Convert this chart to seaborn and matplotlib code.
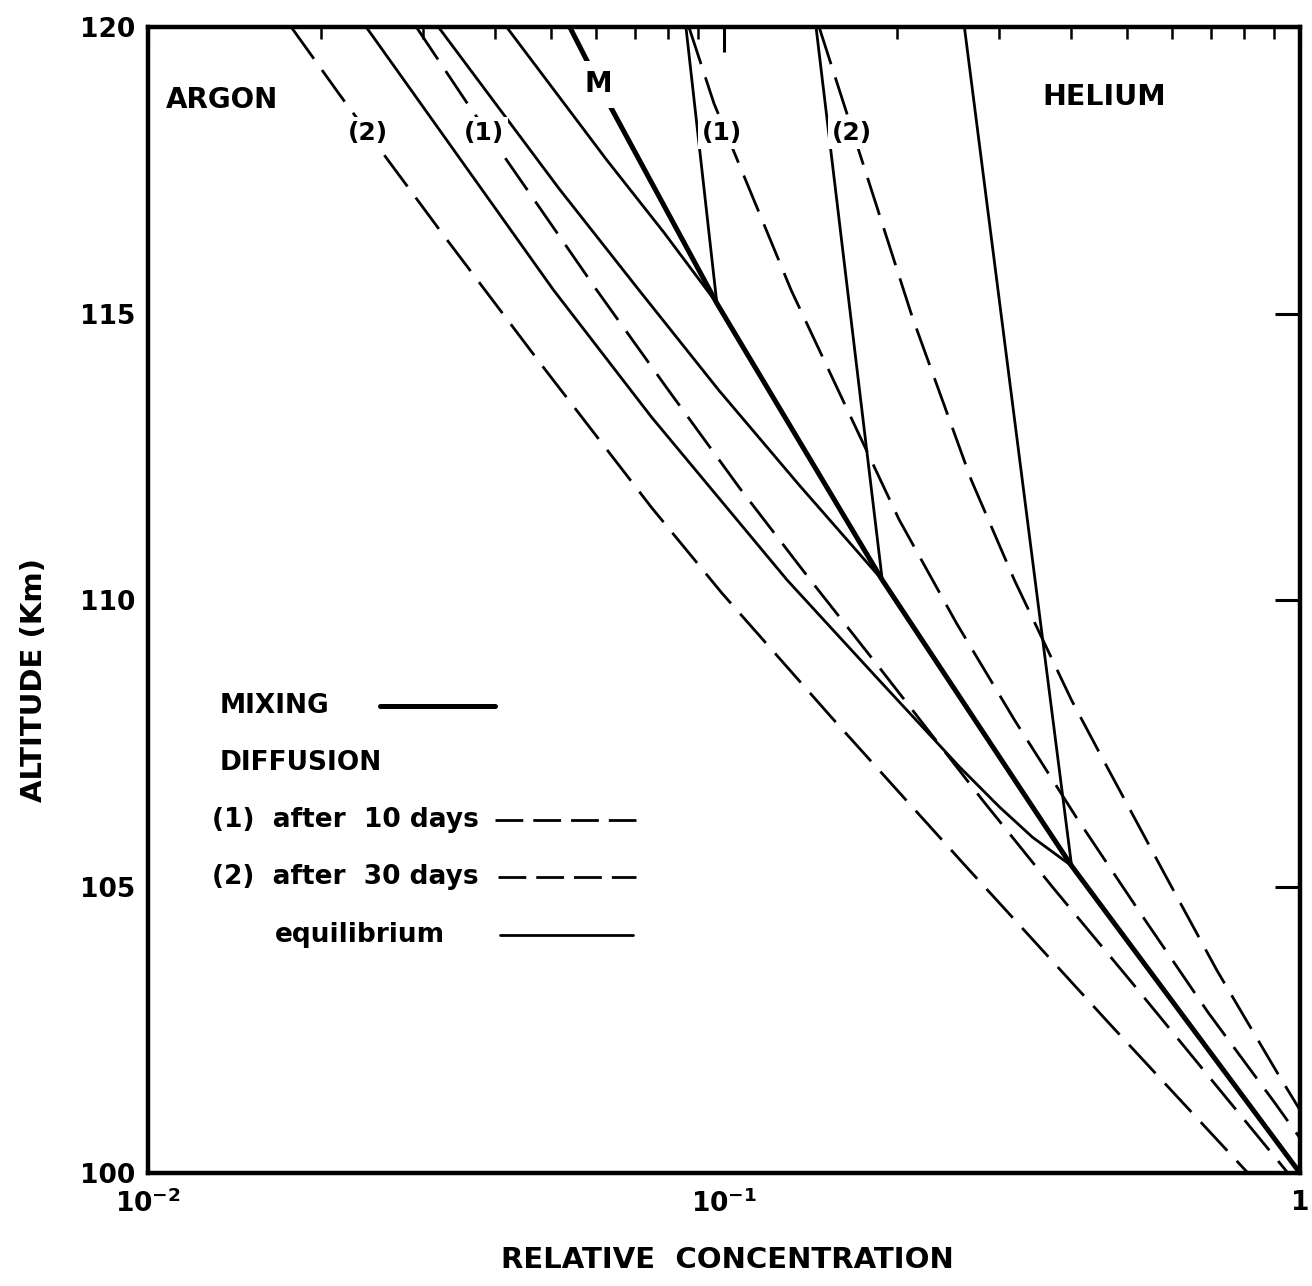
import matplotlib
matplotlib.use("Agg")
import matplotlib.pyplot as plt
from matplotlib.lines import Line2D
from matplotlib.ticker import FixedLocator, FixedFormatter, LogLocator, NullFormatter
import seaborn as sns

# ---------------- data (relative concentration, altitude km) ----------------
# mixing profile (thick line) with its kinks at ~105, ~110 and ~115 km
mixing_conc = [1.0, 0.4014, 0.1883, 0.0972, 0.0633, 0.0540]
mixing_alt = [100.0, 105.36, 110.35, 115.18, 118.64, 120.0]

# argon equilibrium curves starting at the mixing line
ar_eq105_conc = [0.4014, 0.3433, 0.3007, 0.2563, 0.1860, 0.1287, 0.0749, 0.0506, 0.02393]
ar_eq105_alt = [105.36, 105.86, 106.39, 107.09, 108.60, 110.35, 113.19, 115.41, 120.0]
ar_eq110_conc = [0.1883, 0.1350, 0.0980, 0.0712, 0.05164, 0.03194]
ar_eq110_alt = [110.35, 112.01, 113.66, 115.41, 117.19, 120.0]
ar_eq115_conc = [0.0972, 0.0786, 0.0626, 0.04195]
ar_eq115_alt = [115.18, 116.42, 117.68, 120.0]

# helium equilibrium curves starting at the mixing line
he_eq105_conc = [0.4014, 0.2615]
he_eq105_alt = [105.36, 120.0]
he_eq110_conc = [0.1883, 0.1445]
he_eq110_alt = [110.35, 120.0]
he_eq115_conc = [0.0972, 0.0859]
he_eq115_alt = [115.18, 120.0]

# diffusion profiles
ar_d10_conc = [0.02924, 0.03573, 0.06013, 0.0796, 0.1062, 0.1405, 0.1875,
               0.2810, 0.3719, 0.5063, 0.7030, 0.9531]
ar_d10_alt = [120.0, 118.69, 115.41, 113.70, 111.97, 110.38, 108.78,
              106.51, 104.99, 103.37, 101.62, 100.0]
ar_d30_conc = [0.01773, 0.02166, 0.03258, 0.04826, 0.07493, 0.0992, 0.1541,
               0.2615, 0.4636, 0.8122]
ar_d30_alt = [120.0, 118.78, 116.37, 114.10, 111.61, 110.12, 107.94,
              105.38, 102.64, 100.0]
he_d10_conc = [0.08693, 0.09607, 0.1308, 0.1663, 0.2015, 0.2532, 0.3193,
               0.4095, 0.5313, 0.6918, 0.9050, 1.0]
he_d10_alt = [120.0, 118.67, 115.41, 113.18, 111.40, 109.60, 107.91,
              106.20, 104.50, 102.81, 101.22, 100.61]
he_d30_conc = [0.1463, 0.2123, 0.2689, 0.3193, 0.4014, 0.4489, 0.5871,
               0.7172, 0.9121, 1.0]
he_d30_alt = [120.0, 114.94, 112.09, 110.35, 108.25, 107.33, 105.15,
              103.54, 101.76, 101.10]

x_ticks = [0.01, 0.1, 1.0]
x_ticklabels = ["$10^{-2}$", "$10^{-1}$", "1"]
y_ticks = [100, 105, 110, 115, 120]
y_ticklabels = ["100", "105", "110", "115", "120"]

# ---------------- style ----------------
sns.set_style("white")
plt.rcParams["font.family"] = ["DejaVu Sans"]
plt.rcParams["mathtext.fontset"] = "dejavusans"
plt.rcParams["mathtext.default"] = "bf"
plt.rcParams["text.color"] = "black"
plt.rcParams["axes.labelcolor"] = "black"
plt.rcParams["xtick.color"] = "black"
plt.rcParams["ytick.color"] = "black"

fig = plt.figure(figsize=(13.12, 12.86), dpi=100)
ax = fig.add_axes([0.1128, 0.0879, 0.878, 0.891])

LW_MIX = 3.6
LW_THIN = 2.0
DASH = (14.0, 5.0)


def draw(conc, alt, lw, dash=None, z=2):
    sns.lineplot(x=conc, y=alt, sort=False, estimator=None, ax=ax,
                 color="black", linewidth=lw, zorder=z)
    line = ax.lines[-1]
    if dash is not None:
        line.set_dashes(dash)
        line.set_dash_capstyle("butt")
    else:
        line.set_solid_joinstyle("round")
    return line


draw(mixing_conc, mixing_alt, LW_MIX, z=3)
for c, a in [(ar_eq105_conc, ar_eq105_alt), (ar_eq110_conc, ar_eq110_alt),
             (ar_eq115_conc, ar_eq115_alt), (he_eq105_conc, he_eq105_alt),
             (he_eq110_conc, he_eq110_alt), (he_eq115_conc, he_eq115_alt)]:
    draw(c, a, LW_THIN)
for c, a in [(ar_d10_conc, ar_d10_alt), (ar_d30_conc, ar_d30_alt),
             (he_d10_conc, he_d10_alt), (he_d30_conc, he_d30_alt)]:
    draw(c, a, LW_THIN, dash=DASH)

ax.set_xscale("log")
ax.set_xlim(0.01, 1.0)
ax.set_ylim(100, 120)

# ticks
ax.xaxis.set_major_locator(FixedLocator(x_ticks))
ax.xaxis.set_major_formatter(FixedFormatter(x_ticklabels))
ax.xaxis.set_minor_locator(LogLocator(base=10, subs=[2, 3, 4, 5, 6, 7, 8, 9]))
ax.xaxis.set_minor_formatter(NullFormatter())
ax.yaxis.set_major_locator(FixedLocator(y_ticks))
ax.yaxis.set_major_formatter(FixedFormatter(y_ticklabels))
ax.tick_params(axis="both", which="both", direction="in", top=True, right=True,
               colors="black")
ax.tick_params(axis="both", which="major", length=18, width=2.2, labelsize=19)
ax.tick_params(axis="x", which="minor", length=8.5, width=1.8)
ax.tick_params(axis="y", which="major", pad=9)
ax.tick_params(axis="x", which="major", pad=12)
for lab in ax.get_yticklabels() + ax.get_xticklabels():
    lab.set_fontweight("bold")
    lab.set_color("black")

for sp in ax.spines.values():
    sp.set_linewidth(3.2)
    sp.set_color("black")

ax.set_xlabel("RELATIVE  CONCENTRATION", fontsize=21, fontweight="bold", color="black")
ax.set_ylabel("ALTITUDE (Km)", fontsize=21, fontweight="bold", color="black")
ax.xaxis.set_label_coords(0.503, -0.064)
ax.yaxis.set_label_coords(-0.087, 0.43)

# curve annotations
wb = dict(facecolor="white", edgecolor="none", pad=3)
ax.text(0.01345, 118.73, "ARGON", ha="center", va="center", fontsize=20,
        fontweight="bold", color="black")
ax.text(0.458, 118.78, "HELIUM", ha="center", va="center", fontsize=20.5,
        fontweight="bold", color="black")
ax.text(0.0606, 119.0, "M", ha="center", va="center", fontsize=20, fontweight="bold",
        color="black", bbox=dict(facecolor="white", edgecolor="none", pad=7), zorder=6)
for xc, t in [(0.0241, "(2)"), (0.0383, "(1)"), (0.0992, "(1)"), (0.167, "(2)")]:
    ax.text(xc, 118.15, t, ha="center", va="center", fontsize=18, fontweight="bold",
            color="black", bbox=wb, zorder=6)

# key drawn as in the original
key_fs = 19
key_texts = [
    (0.0625, 0.4075, "MIXING"),
    (0.0625, 0.3578, "DIFFUSION"),
    (0.0556, 0.308, "(1)  after  10 days"),
    (0.0556, 0.2583, "(2)  after  30 days"),
    (0.110, 0.2077, "equilibrium"),
]
for xk, yk, t in key_texts:
    ax.text(xk, yk, t, transform=ax.transAxes, ha="left", va="center",
            fontsize=key_fs, fontweight="bold", color="black")

key_lines = [
    ((0.201, 0.301), 0.4075, LW_MIX, None),
    ((0.301, 0.4236), 0.308, LW_THIN, (10.0, 3.6)),
    ((0.304, 0.4236), 0.2583, LW_THIN, (10.0, 3.6)),
    ((0.3056, 0.421), 0.2077, LW_THIN, None),
]
for (x0, x1), yk, lw, dash in key_lines:
    ln = Line2D([x0, x1], [yk, yk], transform=ax.transAxes, color="black", linewidth=lw)
    if dash is not None:
        ln.set_dashes(dash)
        ln.set_dash_capstyle("butt")
    ax.add_line(ln)

fig.savefig("out.png", dpi=100, facecolor="white")
